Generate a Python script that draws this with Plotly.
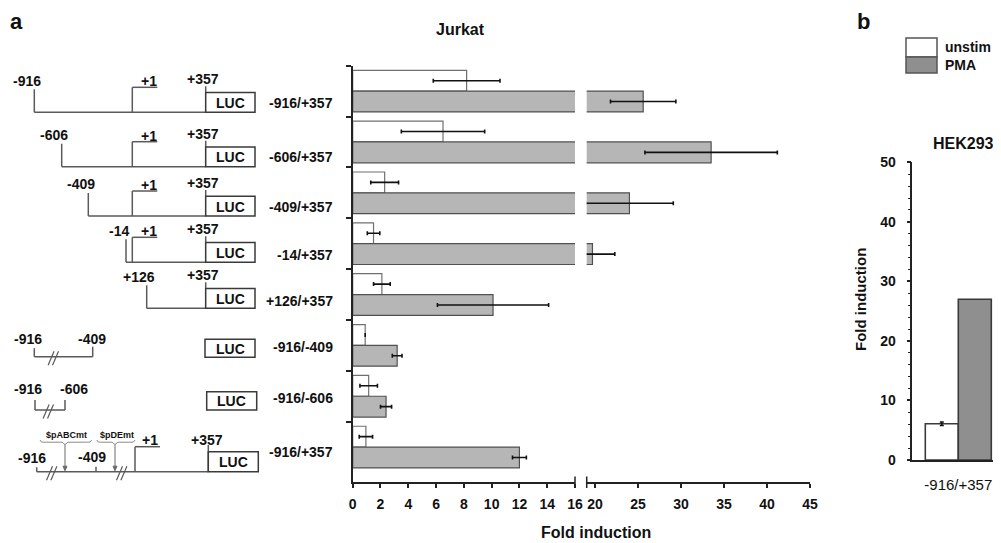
import plotly.graph_objects as go

W, H = 1001, 543          # browser window
OX, OY = 8, 8             # page body margin offset
FW, FH = W - OX, H - OY   # figure size so it fits the window

# ---------------- data ----------------
constructs = ["-916/+357", "-606/+357", "-409/+357", "-14/+357",
              "+126/+357", "-916/-409", "-916/-606", "-916/+357"]
unstim = [8.2, 6.5, 2.3, 1.5, 2.1, 0.9, 1.15, 0.95]
unstim_err = [2.4, 3.0, 1.0, 0.45, 0.6, None, 0.63, 0.48]
pma = [25.6, 33.5, 24.0, 19.7, 10.1, 3.2, 2.4, 12.0]
pma_err = [3.8, 7.7, 5.1, 2.6, 4.0, 0.35, 0.4, 0.5]

left_ticks = [0, 2, 4, 6, 8, 10, 12, 14, 16]
right_ticks = [20, 25, 30, 35, 40, 45]

hek_category = ["-916/+357"]
hek_unstim = [6.1]
hek_unstim_err = [0.3]
hek_pma = [27.0]
hek_ticks = [0, 10, 20, 30, 40, 50]

series_names = ["unstim", "PMA"]

# ---------------- styles ----------------
FONT = "Liberation Sans, Arial, sans-serif"
LINE = "#5a5a5a"
DARK = "#3a3a3a"
GREY_A = "#b6b6b6"
GREY_B = "#8f8f8f"


def X(px):
    return (px - OX) / FW


def Y(py):
    return 1 - (py - OY) / FH


shapes = []
annotations = []


def line(x0, y0, x1, y1, color=LINE, w=1.5):
    shapes.append(dict(type="line", xref="paper", yref="paper",
                       x0=X(x0), y0=Y(y0), x1=X(x1), y1=Y(y1),
                       line=dict(color=color, width=w)))


def rect(x0, y0, x1, y1, fill="white", color=DARK, w=1.5):
    shapes.append(dict(type="rect", xref="paper", yref="paper",
                       x0=X(x0), y0=Y(y0), x1=X(x1), y1=Y(y1),
                       fillcolor=fill, line=dict(color=color, width=w)))


def path(pts, color=LINE, w=1.2, close=False, fill=None):
    d = "M " + " L ".join(f"{X(a):.5f},{Y(b):.5f}" for a, b in pts)
    if close:
        d += " Z"
    shapes.append(dict(type="path", xref="paper", yref="paper", path=d,
                       line=dict(color=color, width=w),
                       fillcolor=fill if fill else "rgba(0,0,0,0)"))


def text(x, y, s, size=14, bold=True, anchor="center", color="#111", angle=0, vanchor="middle"):
    annotations.append(dict(xref="paper", yref="paper", x=X(x), y=Y(y),
                            text=f"<b>{s}</b>" if bold else s,
                            showarrow=False, xanchor=anchor, yanchor=vanchor,
                            textangle=angle, borderpad=0,
                            font=dict(family=FONT, size=size, color=color)))


def slash(xc, yc):
    for d in (-2.2, 2.2):
        line(xc + d - 3, yc + 7, xc + d + 3, yc - 7, color=LINE, w=1.2)


def luc(x0, y0, x1, y1):
    rect(x0, y0, x1, y1)
    text((x0 + x1) / 2, (y0 + y1) / 2 + 0.5, "LUC", size=14)


# schematic x-positions (pixels) of promoter coordinates
SX = {-916: 34.3, -606: 61.7, -409: 88.3, -14: 126.0, 1: 132.3, 126: 146.7, 357: 205.7}
BOX_W = 49.3
BOX_H = 19.7

# ---- rows 1-5: deletion constructs ----
rows = [(-916, 112.3, True), (-606, 166.7, True), (-409, 216.0, True),
        (-14, 262.3, True), (126, 308.3, False)]
for start, yb, has_tss in rows:
    xs = SX[start]
    line(xs, yb, SX[357], yb)
    line(xs, yb - 23, xs, yb)
    text(xs - 7.5, yb - 31.5, f"{start:+d}" if start > 0 else str(start), size=14)
    if has_tss:
        x1 = SX[1]
        line(x1, yb, x1, yb - 25)
        line(x1, yb - 25, x1 + 25, yb - 25)
        text(x1 + 17, yb - 31, "+1", size=14)
    line(SX[357], yb - 26, SX[357], yb)
    text(SX[357] - 2.4, yb - 33, "+357", size=14)
    luc(SX[357], yb - BOX_H, SX[357] + BOX_W, yb)

# ---- row 6: -916/-409 ----
yb = 356.7
line(34.3, yb, 92.7, yb)
line(34.3, yb - 8.5, 34.3, yb)
line(92.7, yb - 10, 92.7, yb)
slash(53.3, yb + 1.5)
text(28.3, 339.3, "-916", size=14)
text(91.7, 339.3, "-409", size=14)
luc(205.0, 339.3, 255.0, 357.3)

# ---- row 7: -916/-606 ----
yb = 410.0
line(35.0, yb, 65.0, yb)
line(35.0, yb - 10, 35.0, yb)
line(65.0, yb - 10, 65.0, yb)
slash(48.3, yb + 1.5)
text(28.3, 389.3, "-916", size=14)
text(74.0, 389.3, "-606", size=14)
luc(206.7, 391.7, 256.7, 410.0)

# ---- row 8: mutant -916/+357 ----
yb = 471.7
line(36.7, yb, 208.3, yb)
line(36.7, yb - 4.5, 36.7, yb)
line(96.0, yb - 5, 96.0, yb)
slash(51.7, yb + 1.5)
slash(121.7, yb + 1.5)
text(31.7, 458.3, "-916", size=14)
text(91.7, 456.7, "-409", size=14)
# braces + arrows for mutated sites
for (bx0, bx1, bm, lab) in [(40.0, 91.7, 65.0, "$pABCmt"), (96.7, 135.0, 115.0, "$pDEmt")]:
    yt, yc = 440.0, 443.0
    path([(bx0, yt), (bx0 + 1.5, yc - 1), (bx0 + 4, yc - 0.8), (bm - 3, yc - 0.8),
          (bm, yc + 1.5), (bm + 3, yc - 0.8), (bx1 - 4, yc - 0.8), (bx1 - 1.5, yc - 1), (bx1, yt)],
         color="#8a8a8a", w=1.0)
    line(bm, yc + 1.5, bm, yb - 2, color="#6a6a6a", w=1.0)
    path([(bm - 2, yb - 5.5), (bm, yb - 1), (bm + 2, yb - 5.5)], color="#6a6a6a", w=1.0,
         close=True, fill="#6a6a6a")
    text((bx0 + bx1) / 2 + 1, 434.5, lab, size=9)
line(135.0, yb, 135.0, 446.7)
line(135.0, 446.7, 160.0, 446.7)
text(150.0, 440.0, "+1", size=14)
line(208.3, 445.0, 208.3, yb)
text(206.7, 440.0, "+357", size=14)
luc(208.3, 451.7, 258.3, yb)

# ---- construct labels ----
label_y = [103.3, 156.7, 206.7, 255.0, 300.5, 346.7, 398.3, 451.7]
for lab, ly in zip(constructs, label_y):
    text(334, ly, lab, size=14, anchor="right")

# ---------------- figure ----------------
fig = go.Figure()
ypos = list(range(len(constructs)))
BW = 0.41
for xa in ["x", "x2"]:
    fig.add_trace(go.Bar(
        orientation="h", x=unstim, y=ypos, width=BW, offset=-BW,
        name=series_names[0], xaxis=xa, yaxis="y", showlegend=False,
        marker=dict(color="white", line=dict(color="#707070", width=1.2)),
        error_x=dict(type="data", array=unstim_err, color="#111", thickness=1.6, width=2)))
    fig.add_trace(go.Bar(
        orientation="h", x=pma, y=ypos, width=BW, offset=0,
        name=series_names[1], xaxis=xa, yaxis="y", showlegend=False,
        marker=dict(color=GREY_A, line=dict(color="#505050", width=1.2)),
        error_x=dict(type="data", array=pma_err, color="#111", thickness=1.6, width=2)))

# panel b
fig.add_trace(go.Bar(
    x=[0], y=hek_unstim, width=1, offset=-1, xaxis="x3", yaxis="y3",
    name=series_names[0], showlegend=False,
    marker=dict(color="white", line=dict(color=DARK, width=1.6)),
    error_y=dict(type="data", array=hek_unstim_err, color="#111", thickness=1.5, width=2)))
fig.add_trace(go.Bar(
    x=[0], y=hek_pma, width=1, offset=0, xaxis="x3", yaxis="y3",
    name=series_names[1], showlegend=False,
    marker=dict(color=GREY_B, line=dict(color=DARK, width=1.6))))

tickfont = dict(family=FONT, size=14, color="#111", weight="bold")
axline = dict(showline=True, linecolor="#222", linewidth=1.5, showgrid=False,
              zeroline=False, ticks="outside", tickcolor="#222", tickwidth=1.5,
              automargin=False)

Y_BOT, Y_TOP = 482.3, 65.7
fig.update_layout(
    width=FW, height=FH, margin=dict(l=0, r=0, t=0, b=0, autoexpand=False),
    paper_bgcolor="white", plot_bgcolor="white", barmode="overlay",
    font=dict(family=FONT),
    xaxis=dict(domain=[X(352.7), X(575.0)], range=[0, 16], tickvals=left_ticks,
               anchor="y", ticklen=4, tickfont=tickfont, ticklabelstandoff=4, **axline),
    xaxis2=dict(domain=[X(586.7), X(810.0)], range=[19.03, 45], tickvals=right_ticks,
                anchor="y", ticklen=4, tickfont=tickfont, ticklabelstandoff=4, **axline),
    yaxis=dict(domain=[Y(Y_BOT), Y(Y_TOP)],
               range=[-0.5 + (Y_BOT - Y_TOP) / 50.85, -0.5],
               tickvals=[i - 0.5 for i in range(len(constructs))],
               showticklabels=False, ticklen=5, anchor="x", **axline),
    xaxis3=dict(domain=[X(912.3), 1.0], range=[-1.394, 1.294], tickvals=[0],
                ticktext=hek_category, anchor="y3", showline=True, linecolor="#222",
                linewidth=1.5, showgrid=False, zeroline=False, ticks="", automargin=False,
                tickfont=dict(family=FONT, size=15, color="#111"), ticklabelstandoff=10),
    yaxis3=dict(domain=[Y(460.0), Y(162.3)], range=[0, 50], tickvals=hek_ticks,
                anchor="x3", ticklen=4, tickfont=tickfont, ticklabelstandoff=8,
                minor=dict(dtick=2, ticks="outside", ticklen=3, tickcolor="#222", tickwidth=1.2),
                **axline),
)

# axis break caps
line(575.0, 476.5, 575.0, 488.0, color="#222", w=1.5)
line(586.7, 476.5, 586.7, 488.0, color="#222", w=1.5)

# legend (panel b)
rect(906, 38, 937, 57, fill="white", color="#555", w=1.5)
rect(906, 57, 937, 73, fill=GREY_B, color="#555", w=1.5)
text(944, 46.7, series_names[0], size=14, anchor="left")
text(944, 65.5, series_names[1], size=14, anchor="left")

# titles / labels
text(16.7, OY, "a", size=22, vanchor="top")
text(460.0, 29.3, "Jurkat", size=16)
text(863.0, OY, "b", size=22, vanchor="top")
text(596.0, 532.5, "Fold induction", size=16)
text(963.3, 143.3, "HEK293", size=16)
text(860.0, 300.0, "Fold induction", size=15, angle=-90)

fig.update_layout(shapes=shapes, annotations=annotations)
fig.write_html("out.html")
